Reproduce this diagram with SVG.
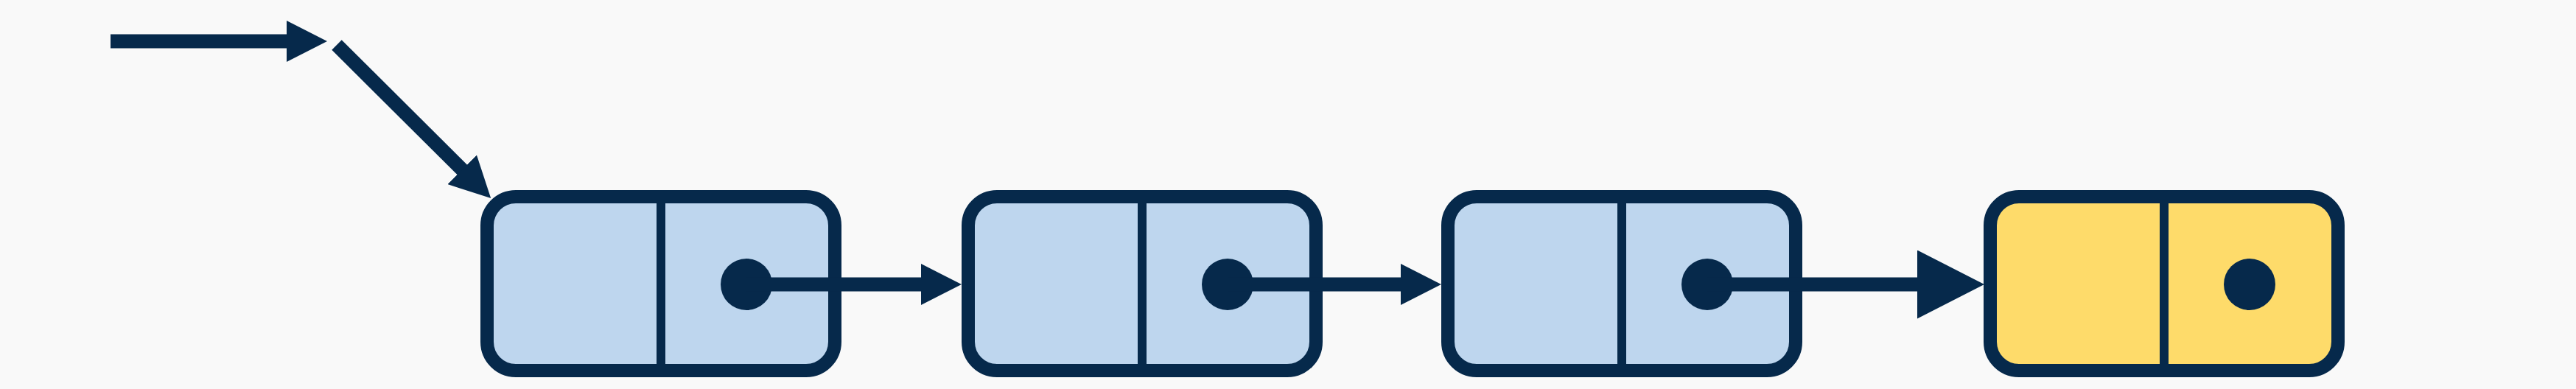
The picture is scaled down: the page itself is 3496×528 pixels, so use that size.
<svg xmlns="http://www.w3.org/2000/svg" width="3496" height="528" viewBox="0 0 3496 528">
  <style>
    .box { stroke: #06294b; stroke-width: 18; }
    .blue { fill: #bed6ee; }
    .yellow { fill: #fedb6a; }
    .div { stroke: #06294b; stroke-width: 12; }
    .dot { fill: #06294b; }
    .link { stroke: #06294b; stroke-width: 19; fill: none; stroke-linecap: butt; }
  </style>
  <defs>
    <marker id="ah" markerUnits="userSpaceOnUse" viewBox="0 0 55 56" refX="35" refY="28" markerWidth="55" markerHeight="56" orient="auto">
      <path d="M0,0 L55,28 L0,56 Z" fill="#06294b"/>
    </marker>
    <marker id="ahBig" markerUnits="userSpaceOnUse" viewBox="0 0 91 93" refX="51" refY="46.5" markerWidth="91" markerHeight="93" orient="auto">
      <path d="M0,0 L91,46.5 L0,93 Z" fill="#06294b"/>
    </marker>
  </defs>
  <rect width="3496" height="528" fill="#f9f9f9"/>

  <g id="node1">
    <rect class="box blue" x="661" y="267" width="472" height="236" rx="39"/>
    <line class="div" x1="897" y1="267" x2="897" y2="503"/>
    <circle class="dot" cx="1013" cy="386" r="35"/>
  </g>
  <g id="node2">
    <rect class="box blue" x="1314" y="267" width="472" height="236" rx="39"/>
    <line class="div" x1="1550" y1="267" x2="1550" y2="503"/>
    <circle class="dot" cx="1666" cy="386" r="35"/>
  </g>
  <g id="node3">
    <rect class="box blue" x="1965" y="267" width="472" height="236" rx="39"/>
    <line class="div" x1="2201" y1="267" x2="2201" y2="503"/>
    <circle class="dot" cx="2317" cy="386" r="35"/>
  </g>
  <g id="node4">
    <rect class="box yellow" x="2701" y="267" width="472" height="236" rx="39"/>
    <line class="div" x1="2937" y1="267" x2="2937" y2="503"/>
    <circle class="dot" cx="3053" cy="386" r="35"/>
  </g>

  <g id="connectors">
    <line class="link" x1="150" y1="56" x2="424" y2="56" marker-end="url(#ah)"/>
    <line class="link" x1="457" y1="61" x2="652" y2="255" marker-end="url(#ah)"/>
    <line class="link" x1="1013" y1="386" x2="1285" y2="386" marker-end="url(#ah)"/>
    <line class="link" x1="1666" y1="386" x2="1936" y2="386" marker-end="url(#ah)"/>
    <line class="link" x1="2317" y1="386" x2="2653" y2="386" marker-end="url(#ahBig)"/>
  </g>
</svg>
